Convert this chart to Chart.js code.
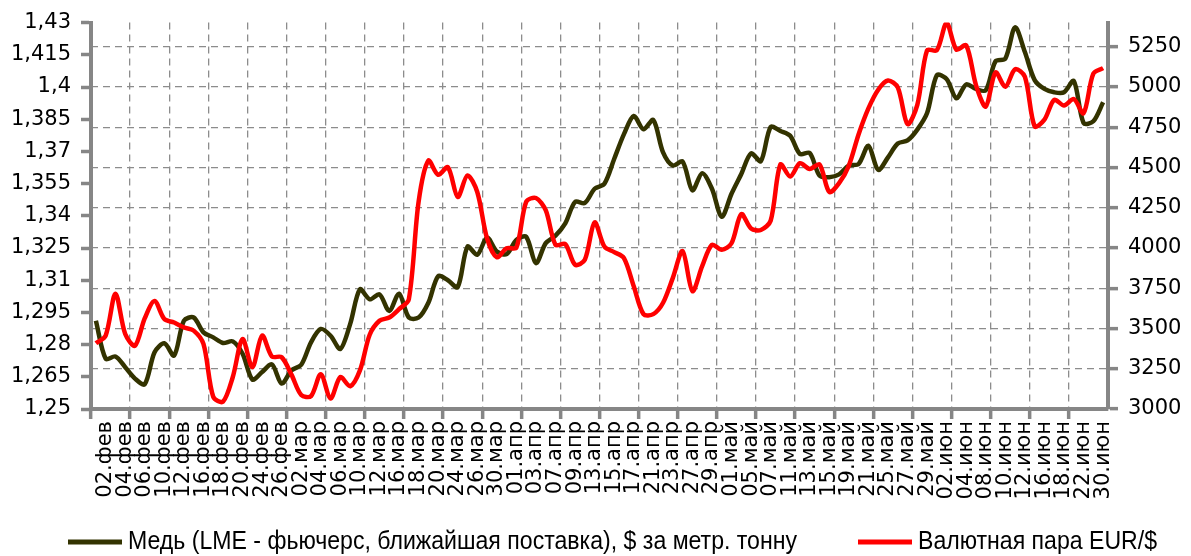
<!DOCTYPE html>
<html lang="ru">
<head>
<meta charset="utf-8">
<title>Медь и EUR/$</title>
<script src="https://cdn.jsdelivr.net/npm/chart.js@4/dist/chart.umd.min.js"></script>
<style>
  html, body { margin: 0; padding: 0; background: #fff; }
  #wrap { width: 1191px; height: 556px; position: relative; }
</style>
</head>
<body>
<div id="wrap"><canvas id="metalChart"></canvas></div>
<script>
// торговые дни (подписи по оси X — через один)
const dates = [
  '30.янв',
  '02.фев','03.фев','04.фев','05.фев','06.фев','09.фев','10.фев','11.фев','12.фев','13.фев',
  '16.фев','17.фев','18.фев','19.фев','20.фев','23.фев','24.фев','25.фев','26.фев','27.фев',
  '02.мар','03.мар','04.мар','05.мар','06.мар','09.мар','10.мар','11.мар','12.мар','13.мар',
  '16.мар','17.мар','18.мар','19.мар','20.мар','23.мар','24.мар','25.мар','26.мар','27.мар','30.мар','31.мар',
  '01.апр','02.апр','03.апр','06.апр','07.апр','08.апр','09.апр','10.апр','13.апр','14.апр',
  '15.апр','16.апр','17.апр','20.апр','21.апр','22.апр','23.апр','24.апр','27.апр','28.апр','29.апр','30.апр',
  '01.май','04.май','05.май','06.май','07.май','08.май','11.май','12.май','13.май','14.май',
  '15.май','18.май','19.май','20.май','21.май','22.май','25.май','26.май','27.май','28.май','29.май',
  '01.июн','02.июн','03.июн','04.июн','05.июн','08.июн','09.июн','10.июн','11.июн','12.июн',
  '15.июн','16.июн','17.июн','18.июн','19.июн','22.июн','29.июн','30.июн'
];

// медь, LME, $ за метр. тонну (правая ось)
const copper = [
  3548, 3312, 3326, 3260, 3189, 3154, 3353, 3408, 3332, 3548,
  3568, 3476, 3445, 3410, 3420, 3343, 3183, 3230, 3277, 3158,
  3240, 3275, 3414, 3497, 3455, 3373, 3527, 3743, 3681, 3712,
  3609, 3716, 3568, 3568, 3660, 3825, 3800, 3757, 4009, 3958,
  4065, 3978, 3962, 4050, 4070, 3906, 4030, 4077, 4153, 4286,
  4280, 4368, 4399, 4553, 4707, 4820, 4737, 4795, 4594, 4512,
  4537, 4358, 4465, 4368, 4194, 4337, 4460, 4588, 4539, 4752,
  4727, 4697, 4584, 4590, 4450, 4440, 4457, 4512, 4522, 4635,
  4485, 4563, 4649, 4668, 4735, 4838, 5074, 5049, 4930, 5016,
  4988, 4980, 5160, 5176, 5371, 5217, 5043, 4988, 4967, 4967,
  5037, 4777, 4787, 4905
];

// EUR/$ (левая ось)
const eurUsd = [
  1.2806, 1.2842, 1.3037, 1.2849, 1.2795, 1.2923, 1.3003, 1.2919, 1.2903, 1.2880,
  1.2865, 1.2803, 1.2557, 1.2534, 1.2649, 1.2826, 1.2695, 1.2842, 1.2745, 1.2741,
  1.2660, 1.2565, 1.2560, 1.2662, 1.2549, 1.2649, 1.2606, 1.2680, 1.2846, 1.2911,
  1.2926, 1.2965, 1.3011, 1.3465, 1.3657, 1.3591, 1.3626, 1.3488, 1.3588, 1.3511,
  1.3295, 1.3207, 1.3249, 1.3252, 1.3465, 1.3483, 1.3426, 1.3265, 1.3268, 1.3172,
  1.3195, 1.3369, 1.3257, 1.3231, 1.3203, 1.3072, 1.2942, 1.2942, 1.2995, 1.3111,
  1.3235, 1.3049, 1.3165, 1.3265, 1.3242, 1.3272, 1.3408, 1.3341, 1.3334, 1.3377,
  1.3639, 1.3583, 1.3645, 1.3618, 1.3639, 1.3511, 1.3552, 1.3634, 1.3780, 1.3900,
  1.3987, 1.4030, 1.3998, 1.3827, 1.3917, 1.4171, 1.4171, 1.4298, 1.4174, 1.4194,
  1.4009, 1.3909, 1.4068, 1.4001, 1.4083, 1.4048, 1.3817, 1.3848, 1.3940, 1.3914,
  1.3944, 1.3878, 1.4062, 1.4088
];

const seriesNames = ['Медь (LME - фьючерс, ближайшая поставка), $ за метр. тонну', 'Валютная пара EUR/$'];

const axisGray = '#868686';
const gridGray = '#8c8c8c';
const tickFont = { family: 'DejaVu Sans', size: 21 };

// легенда снизу: линия + подпись узким начертанием (сжимаем по горизонтали)
const bottomLegend = {
  id: 'bottomLegend',
  afterDraw(chart) {
    const c = chart.ctx;
    const starts = [68, 858];
    const y = 542;
    c.save();
    c.font = '25px "Liberation Sans", Arial, sans-serif';
    c.textBaseline = 'middle';
    const squeeze = 669 / c.measureText(chart.data.datasets[0].label).width;
    chart.data.datasets.forEach((ds, i) => {
      const x = starts[i];
      c.fillStyle = ds.borderColor;
      c.fillRect(x, y - 2.5, 54, 5);
      c.save();
      c.translate(x + 60, y);
      c.scale(squeeze, 1);
      c.fillStyle = '#000';
      c.fillText(ds.label, 0, 0);
      c.restore();
    });
    c.restore();
  }
};

new Chart(document.getElementById('metalChart'), {
  type: 'line',
  data: {
    labels: dates,
    datasets: [{
      label: seriesNames[0],
      data: copper,
      yAxisID: 'yCopper',
      borderColor: '#333300',
      backgroundColor: '#333300',
      borderWidth: 4.5,
      pointRadius: 0,
      tension: 0.3,
      order: 2
    }, {
      label: seriesNames[1],
      data: eurUsd,
      yAxisID: 'yEur',
      borderColor: '#ff0000',
      backgroundColor: '#ff0000',
      borderWidth: 4.5,
      pointRadius: 0,
      tension: 0.3,
      order: 1
    }]
  },
  options: {
    responsive: true,
    maintainAspectRatio: false,
    animation: false,
    layout: { padding: { top: 18, bottom: 37, left: 0, right: 0 } },
    plugins: {
      legend: { display: false },
      tooltip: { enabled: false }
    },
    scales: {
      x: {
        offset: true,
        grid: {
          offset: true,
          color: c => (c.index > 0 && c.index % 4 === 0) ? gridGray : 'transparent',
          lineWidth: 1.3,
          tickLength: 10,
          tickWidth: 3.5,
          tickColor: c => (c.index !== undefined && c.index % 4 === 0) ? axisGray : 'transparent'
        },
        border: { color: axisGray, width: 4, dash: [7, 5] },
        ticks: {
          autoSkip: false,
          minRotation: 90,
          maxRotation: 90,
          padding: 2,
          color: '#000',
          font: tickFont,
          callback: (v, i) => i % 2 === 1 ? dates[i] : ''
        },
        afterFit: s => { s.height = 110; }
      },
      yEur: {
        position: 'left',
        min: 1.25,
        max: 1.43,
        grid: { drawOnChartArea: false, tickLength: 10, tickWidth: 3.5, tickColor: axisGray },
        border: { color: axisGray, width: 4 },
        ticks: {
          stepSize: 0.015,
          padding: 10,
          color: '#000',
          font: tickFont,
          callback: v => String(+v.toFixed(3)).replace('.', ',')
        },
        afterFit: s => { s.width = 91; }
      },
      yCopper: {
        position: 'right',
        min: 3000,
        max: 5400,
        bounds: 'data',
        afterBuildTicks: s => { s.ticks = s.ticks.filter(t => t.value % 250 === 0); },
        grid: {
          color: c => (c.tick && c.tick.value === 3000) ? 'transparent' : gridGray,
          lineWidth: 1.3,
          tickLength: 10,
          tickWidth: 3.5,
          tickColor: axisGray
        },
        border: { color: axisGray, width: 4, dash: [7, 5] },
        ticks: {
          stepSize: 250,
          padding: 10,
          color: '#000',
          font: tickFont,
          callback: v => String(v)
        },
        afterFit: s => { s.width = 83; }
      }
    }
  },
  plugins: [bottomLegend]
});
</script>
</body>
</html>
